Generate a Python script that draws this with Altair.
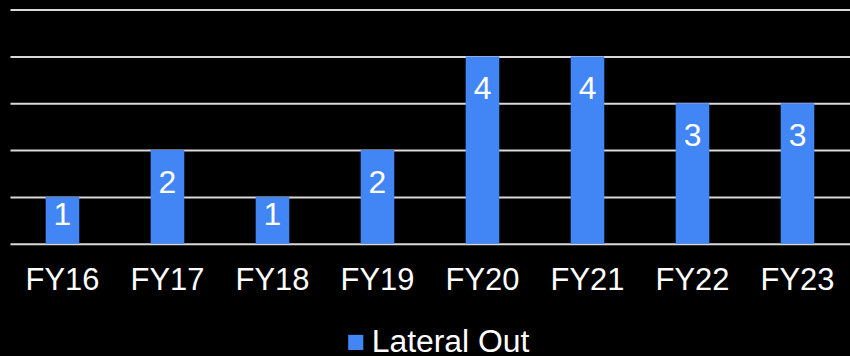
import altair as alt
import pandas as pd

categories = ["FY16", "FY17", "FY18", "FY19", "FY20", "FY21", "FY22", "FY23"]
values = [1, 2, 1, 2, 4, 4, 3, 3]
series_name = "Lateral Out"

df = pd.DataFrame({"year": categories, "value": values, "series": [series_name] * len(categories)})

FONT = "Liberation Sans"
BLUE = "#4285F4"

base = alt.Chart(df).encode(
    x=alt.X("year:N", sort=categories, title=None,
            scale=alt.Scale(paddingInner=0.68, paddingOuter=0.34),
            axis=alt.Axis(labelAngle=0, labelFontSize=31, labelFont=FONT, labelColor="white",
                          labelPadding=22, domain=False, ticks=False, grid=False)),
)

bars = base.mark_bar().encode(
    y=alt.Y("value:Q", title=None, scale=alt.Scale(domain=[0, 5], nice=False),
            axis=alt.Axis(values=[0, 1, 2, 3, 4, 5], labels=False, ticks=False, domain=False,
                          grid=True, gridColor="#d9d9d9", gridWidth=2)),
    color=alt.Color("series:N", title=None,
                    scale=alt.Scale(domain=[series_name], range=[BLUE]),
                    legend=alt.Legend(orient="none", legendX=331, legendY=318, symbolType="square",
                                      symbolSize=230, symbolStrokeWidth=0, labelFontSize=32,
                                      labelFont=FONT, labelColor="white", padding=0,
                                      symbolOffset=0, labelOffset=0)),
)

# "inside end" label position: near the bar top, but kept inside short bars
labels = base.transform_calculate(
    label_pos="max(datum.value - 0.70, 0.606)"
).mark_text(baseline="middle", fontSize=32, font=FONT, color="white").encode(
    y=alt.Y("label_pos:Q"),
    text=alt.Text("value:Q"),
)

chart = alt.layer(bars, labels).properties(
    width=843, height=235,
    padding={"left": 10, "top": 9, "right": 0, "bottom": 112},
    autosize=alt.AutoSizeParams(type="none"),
    background="black",
).configure_view(stroke=None)

chart.save("out.html", embed_options={"renderer": "svg", "actions": False})
